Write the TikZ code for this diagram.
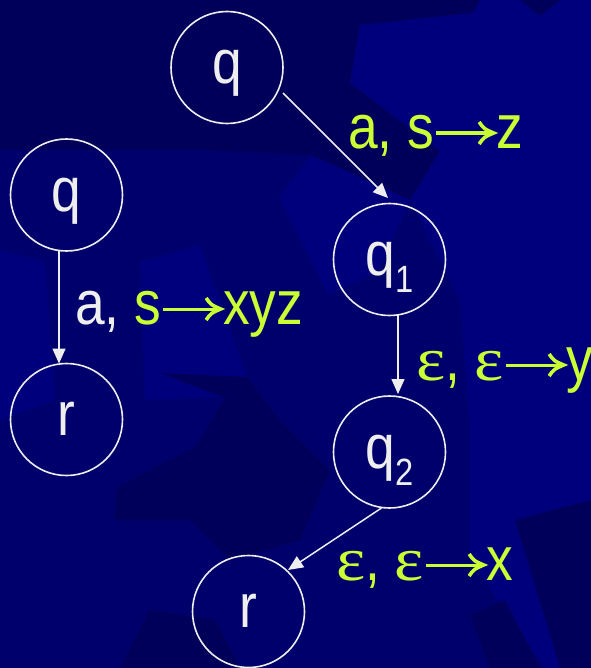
\documentclass[tikz,border=0pt]{standalone}
\usepackage{fontspec}
\setmainfont{Liberation Sans}[FakeStretch=0.86]
\newfontfamily\epsfont{Liberation Serif}
\usetikzlibrary{arrows.meta,calc}
\definecolor{bgbase}{HTML}{00006C}
\definecolor{bglight}{HTML}{00007C}
\definecolor{bgdark}{HTML}{00005A}
\definecolor{lbl}{HTML}{CCFF33}
\definecolor{ink}{HTML}{EEEEEE}
\newcommand{\LA}{\tikz[x=1bp,y=1bp,baseline=0pt]{%
  \useasboundingbox (0,0) rectangle (62,28);
  \draw[lbl, line width=3bp] (2,15) -- (58,15);
  \draw[lbl, line width=3.6bp, line join=miter, miter limit=10, line cap=butt]
     (45,26) .. controls (50,19) .. (59.5,15) .. controls (50,11) .. (45,4);}}
\newcommand{\eps}{{\epsfont\scalebox{1.12}[1.0]{ε}}}
\begin{document}
\begin{tikzpicture}[x=1bp,y=-1bp,
  state/.style={circle, draw=ink, line width=1.6bp, minimum size=112bp, inner sep=0pt,
    text=ink, font=\fontsize{62bp}{62bp}\selectfont, text height=36bp, text depth=4bp},
  lab/.style={anchor=base west, inner sep=0pt, text=lbl, font=\fontsize{62bp}{62bp}\selectfont},
  conn/.style={draw=ink, line width=1.5bp, -{Triangle[length=15bp,width=13bp]}},
  bgl/.style={fill=bglight},
  bgd/.style={fill=bgdark}]
\useasboundingbox (0,0) rectangle (591,668);
\begin{scope}
\clip (0,0) rectangle (591,668);
\fill[bgbase] (0,0) rectangle (591,668);
% darker top-left region
\fill[bgd] (0,0) -- (480,0) -- (473,13) -- (360,25) -- (350,83) -- (440,151) -- (410,200) -- (311,155) -- (200,150) -- (0,150) -- cycle;
% lighter right region
\fill[bgl] (480,0) -- (591,0) -- (591,668) -- (545,668) -- (470,560) -- (470,430) -- (460,300) -- (410,200) -- (440,151) -- (350,83) -- (360,25) -- (473,13) -- cycle;
\fill[bgd] (520,0) -- (560,0) -- (540,16) -- cycle;
% lighter pentagon near q1
\fill[bgl] (311,155) -- (410,200) -- (377,273) -- (328,294) -- (279,198) -- cycle;
% left middle pieces
\fill[bgl] (0,250) -- (45,262) -- (55,400) -- (0,420) -- cycle;
\fill[bgl] (140,262) -- (200,245) -- (247,377) -- (228,397) -- (145,400) -- cycle;
\fill[bgd] (160,373) -- (225,398) -- (195,447) -- (117,487) -- (115,520) -- (190,520) -- (230,560) -- (300,540) -- (330,470) -- (280,420) -- (247,377) -- cycle;
% bottom pieces
\fill[bgd] (150,610) -- (215,620) -- (240,668) -- (120,668) -- cycle;
\fill[bgd] (515,520) -- (591,500) -- (591,668) -- (560,668) -- cycle;
\fill[bgd] (470,615) -- (505,600) -- (540,668) -- (490,668) -- cycle;
\end{scope}

\node[state] (tq) at (227,67.5) {q};
\node[state] (lq) at (66.5,195) {q};
\node[state] (lr) at (66.5,419.5) {r};
\node[state] (q1) at (389.5,259.5) {q\raisebox{-17bp}{\fontsize{38bp}{38bp}\selectfont 1}};
\node[state] (q2) at (389.5,452) {q\raisebox{-17bp}{\fontsize{38bp}{38bp}\selectfont 2}};
\node[state] (br) at (248.5,611.5) {r};

\draw[conn] ($(tq.center)+(56,25.5)$) -- ($(q1.center)+(-1.5,-61.5)$);
\draw[conn] ($(lq.center)+(-7.5,55.5)$) -- ($(lr.center)+(-7.5,-56)$);
\draw[conn] ($(q1.center)+(8.5,55.5)$) -- ($(q2.center)+(8.5,-58)$);
\draw[conn] ($(q2.center)+(-8,56)$) -- ($(br.center)+(39.5,-41.5)$);

\node[lab] (l1) at (348,148) {a, s\LA z};
\node[lab] (l2) at (75,324) {{\color{ink}a,} s\LA xyz};
\node[lab] (l3) at (416,380) {\eps, \eps\LA y};
\node[lab] (l4) at (336,580) {\eps, \eps\LA x};
\end{tikzpicture}
\end{document}
